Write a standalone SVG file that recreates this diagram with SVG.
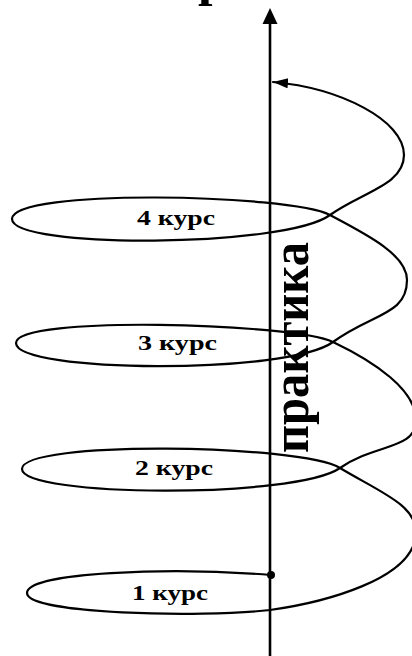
<svg xmlns="http://www.w3.org/2000/svg" width="412" height="656" viewBox="0 0 412 656">
<style>
.ln{fill:none;stroke:#000;stroke-width:2.2;stroke-linecap:round;stroke-linejoin:round}
.lbl{font-family:"Liberation Serif","Times New Roman",serif;font-weight:bold;font-size:21px;fill:#000}
.big{font-family:"Liberation Serif","Times New Roman",serif;font-weight:bold;font-size:52px;fill:#000}
</style>
<defs>
<marker id="ah" markerUnits="userSpaceOnUse" markerWidth="18" markerHeight="12" refX="15" refY="5" orient="auto">
<path d="M0,0 L15,5 L0,10 Z" fill="#000"/>
</marker>
</defs>
<rect width="412" height="656" fill="#fff"/>
<text class="big" x="198" y="-5" font-size="30">р</text>
<g id="connectors">
<line x1="270" y1="656" x2="270" y2="22" stroke="#000" stroke-width="2.6"/>
<polygon points="270,8 262.5,24 277.5,24" fill="#000"/>
<path class="ln" marker-end="url(#ah)" d="M271,575 C170,567 27,572 27,593 C27,614 200,618 270,610 C320,603 416,580 416,532 C416,505 380,492 340,468 C300,444 22,440 22,469 C22,497 295,499 340,468 C376,443 416,450 416,420 C416,390 375,362 333,342 C293,323 16,315 16,343 C16,373 288,375 333,342 C373,313 407,315 407,280 C407,255 368,235 330,215 C290,194 12,188 12,219 C12,249 285,248 330,215 C362,192 404,185 404,155 C404,120 340,88 273,82"/>
<circle cx="271" cy="575" r="4" fill="#000"/>
</g>
<g id="kurs1"><text class="lbl" x="132" y="600" textLength="76" lengthAdjust="spacingAndGlyphs">1 курс</text></g>
<g id="kurs2"><text class="lbl" x="135" y="475" textLength="78" lengthAdjust="spacingAndGlyphs">2 курс</text></g>
<g id="kurs3"><text class="lbl" x="138" y="350" textLength="79" lengthAdjust="spacingAndGlyphs">3 курс</text></g>
<g id="kurs4"><text class="lbl" x="137" y="225" textLength="78" lengthAdjust="spacingAndGlyphs">4 курс</text></g>
<g id="praktika"><text class="big" transform="translate(308,453) rotate(-90)" textLength="211" lengthAdjust="spacingAndGlyphs">практика</text></g>
</svg>
